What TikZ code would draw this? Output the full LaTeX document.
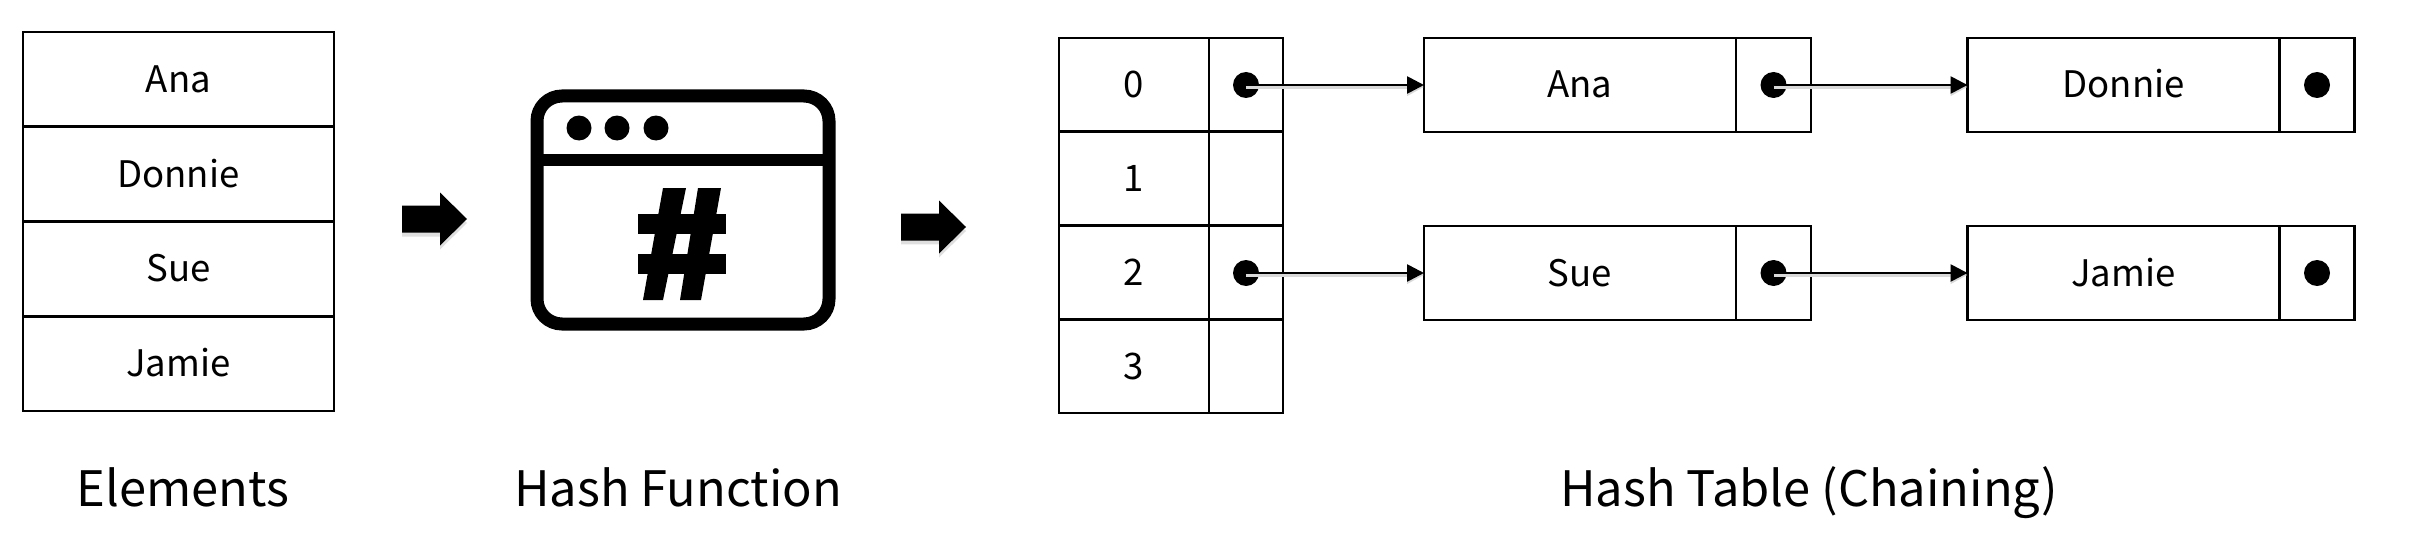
\documentclass[tikz,border=0pt]{standalone}
\usepackage{fontspec}
\setmainfont{Noto Sans CJK SC}
\usetikzlibrary{arrows.meta,shadows}
\tikzset{
  cell/.style = {draw, line width = .75pt, inner sep = 0pt, outer sep = 0pt, text height = .26cm, text depth = 0pt, font = \fontsize{10.4}{13}\selectfont},
  dot/.style = {circle, fill, inner sep = 0pt, minimum size = .26cm},
  link/.style = {line width = .75pt, -{Triangle[length = .17cm, width = .17cm]}, preaction = {draw = black!15, line width = 1.3pt, transform canvas = {yshift = -.02cm}}},
  caption/.style = {anchor = base, inner sep = 0pt, font = \fontsize{13.9}{18}\selectfont},
  block/.style = {fill = black, drop shadow = {opacity = .25, shadow xshift = 0cm, shadow yshift = -.04cm}},
}

\begin{document}
\begin{tikzpicture}
\useasboundingbox (0,0) rectangle (24.16,5.48);

% elements
\foreach \y/\name/\txt in {4.686/ana/Ana, 3.739/donnie/Donnie, 2.791/sue/Sue, 1.844/jamie/Jamie}
  \node[cell, minimum width = 3.11cm, minimum height = .9475cm] (el\name) at (1.785,\y) {\txt};
\node[caption] (capel) at (1.83,.42) {Elements};

% block arrows
\foreach \x/\y in {4.02/3.29, 9.01/3.21}
  \path[block] (\x,\y) ++ (0,.135) -- ++ (.38,0) -- ++ (0,.13) -- ++ (.27,-.265) -- ++ (-.27,-.265) -- ++ (0,.13) -- ++ (-.38,0) -- cycle;

% hash function
\draw[line width = .13cm, rounded corners = .25cm] (5.37,2.24) rectangle (8.29,4.52);
\draw[line width = .12cm] (5.37,3.88) -- (8.29,3.88);
\foreach \x in {5.79,6.17,6.56}
  \fill (\x,4.20) circle (.125);
\fill (6.63,3.60) -- (6.86,3.60) -- (6.63,2.48) -- (6.43,2.48) -- cycle;
\fill (6.98,3.60) -- (7.21,3.60) -- (7.01,2.48) -- (6.80,2.48) -- cycle;
\fill (6.38,3.14) rectangle (7.26,3.34);
\fill (6.38,2.74) rectangle (7.26,2.94);
\node[caption] (caphash) at (6.78,.42) {Hash Function};

% table
\foreach \i/\y in {0/4.631, 1/3.694, 2/2.756, 3/1.819} {
  \node[cell, minimum width = 1.50cm, minimum height = .9375cm] (key\i) at (11.34,\y) {\i};
  \node[cell, minimum width = .74cm, minimum height = .9375cm] (ptr\i) at (12.46,\y) {};
}
\node[caption] (captab) at (18.09,.42) {Hash Table (Chaining)};

% chains
\foreach \name/\txt/\x/\y in {ana/Ana/15.80/4.63, donnie/Donnie/21.235/4.63, sue/Sue/15.80/2.75, jamie/Jamie/21.235/2.75} {
  \node[cell, minimum width = 3.12cm, minimum height = .94cm] (val\name) at (\x,\y) {\txt};
  \node[cell, minimum width = .75cm, minimum height = .94cm, anchor = west] (nxt\name) at (val\name.east) {};
  \node[dot] (dot\name) at (nxt\name) {};
}
\node[dot] (dotzero) at (12.46,4.63) {};
\node[dot] (dottwo) at (12.46,2.75) {};

\draw[link] (dotzero.center) -- (valana.west);
\draw[link] (dotana.center) -- (valdonnie.west);
\draw[link] (dottwo.center) -- (valsue.west);
\draw[link] (dotsue.center) -- (valjamie.west);
\end{tikzpicture}
\end{document}
